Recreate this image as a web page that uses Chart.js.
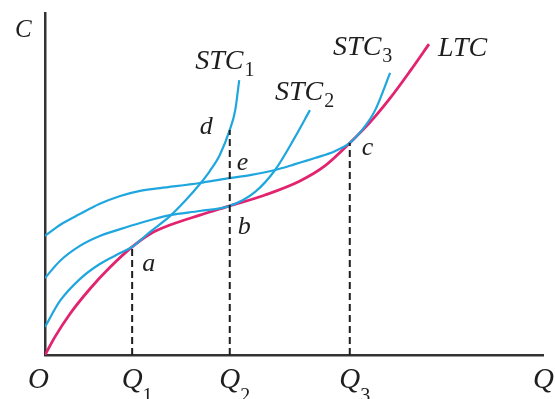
<!DOCTYPE html>
<html>
<head>
<meta charset="utf-8">
<script src="https://cdn.jsdelivr.net/npm/chart.js@4"></script>
<style>
  html, body { margin: 0; padding: 0; background: #ffffff; }
  #wrap { width: 555px; height: 399px; }
</style>
</head>
<body>
<div id="wrap"><canvas id="cost" width="555" height="399"></canvas></div>
<script>
// Output quantity Q (x) and cost C (y), arbitrary units 0..10

// Long-run total cost
const ltcQ = [0, 0.20, 0.50, 0.90, 1.31, 1.75, 2.11, 2.51, 3.11, 3.71, 4.42, 5.12, 5.62, 6.12, 6.53, 6.93, 7.33, 7.71];
const ltcC = [0, 0.53, 1.20, 1.93, 2.57, 3.16, 3.54, 3.80, 4.09, 4.36, 4.68, 5.09, 5.53, 6.20, 6.81, 7.51, 8.30, 9.09];

// Short-run total cost curves for three plant sizes
const stc1Q = [0, 0.30, 0.70, 1.10, 1.51, 1.75, 2.11, 2.51, 2.81, 3.11, 3.31, 3.51, 3.71, 3.82, 3.90];
const stc1C = [0.82, 1.58, 2.22, 2.66, 2.98, 3.16, 3.60, 4.06, 4.50, 5.00, 5.38, 5.85, 6.58, 7.16, 8.04];

const stc2Q = [0, 0.30, 0.70, 1.10, 1.51, 1.91, 2.51, 3.11, 3.71, 4.22, 4.62, 5.02, 5.32];
const stc2C = [2.25, 2.75, 3.19, 3.48, 3.68, 3.86, 4.09, 4.21, 4.36, 4.77, 5.41, 6.37, 7.16];

const stc3Q = [0, 0.30, 0.70, 1.10, 1.51, 1.91, 2.31, 3.11, 3.61, 4.12, 4.62, 5.02, 5.42, 5.82, 6.12, 6.43, 6.63, 6.93];
const stc3C = [3.48, 3.80, 4.12, 4.42, 4.65, 4.80, 4.88, 5.03, 5.15, 5.26, 5.41, 5.58, 5.76, 5.96, 6.20, 6.70, 7.16, 8.25];

// Marked output levels Q1, Q2, Q3
const qTicks = [1.75, 3.71, 6.12];
const qSubs = ['1', '2', '3'];

// Labelled points: a, b, c on LTC; d on STC1 and e on STC3 at Q2
const pointNames = ['a', 'b', 'c', 'd', 'e'];
const pointQ = [1.75, 3.71, 6.12, 3.71, 3.71];
const pointC = [3.16, 4.36, 6.20, 6.58, 5.18];

// Height reached by each dashed guide line (a, d, c)
const guideTop = [3.16, 6.58, 6.20];

const BLUE = '#1fa6de';
const PINK = '#e2236f';
const INK = '#1e1e1e';
const SERIF = '"Liberation Serif", "Times New Roman", serif';

const zip = (xs, ys) => xs.map((x, i) => ({ x: x, y: ys[i] }));

const curve = (label, xs, ys, color, width) => ({
  label: label,
  data: zip(xs, ys),
  showLine: true,
  borderColor: color,
  borderWidth: width,
  pointRadius: 0,
  cubicInterpolationMode: 'monotone',
  fill: false
});

const guides = qTicks.map((q, i) => ({
  label: 'guide' + i,
  data: [{ x: q, y: 0 }, { x: q, y: guideTop[i] }],
  showLine: true,
  borderColor: INK,
  borderWidth: 2,
  borderDash: [7, 4],
  pointRadius: 0
}));

// Text placement relative to the anchor pixel of each label
const curveLabelSpec = [
  { main: 'STC', sub: '1', q: stc1Q, c: stc1C, dx: -44, dy: -11 },
  { main: 'STC', sub: '2', q: stc2Q, c: stc2C, dx: -35, dy: -10 },
  { main: 'STC', sub: '3', q: stc3Q, c: stc3C, dx: -57, dy: -18 },
  { main: 'LTC', sub: '',  q: ltcQ,  c: ltcC,  dx: 9,   dy: 12 }
];
const pointLabelOffset = {
  a: [10, 24], b: [8, 28], c: [12, 12], d: [-30, 4], e: [7, -8]
};

function drawSub(ctx, main, sub, x, y, mainPx, subPx, subDy, gap, centered) {
  ctx.font = 'italic ' + mainPx + 'px ' + SERIF;
  const w = ctx.measureText(main).width;
  const left = centered ? x - w / 2 : x;
  ctx.fillText(main, left, y);
  if (sub) {
    ctx.font = subPx + 'px ' + SERIF;
    ctx.fillText(sub, left + w + gap, y + subDy);
  }
}

const labelPlugin = {
  id: 'costLabels',
  afterDraw(chart) {
    const ctx = chart.ctx;
    const xs = chart.scales.x, ys = chart.scales.y;
    ctx.save();
    ctx.fillStyle = INK;
    ctx.textBaseline = 'alphabetic';
    ctx.textAlign = 'left';

    // Curve names near the upper ends of the curves
    curveLabelSpec.forEach(s => {
      const n = s.q.length - 1;
      const px = xs.getPixelForValue(s.q[n]);
      const py = ys.getPixelForValue(s.c[n]);
      drawSub(ctx, s.main, s.sub, px + s.dx, py + s.dy, 28, 20, 7, 1, false);
    });

    // Point letters
    ctx.font = 'italic 26px ' + SERIF;
    pointNames.forEach((nm, i) => {
      const off = pointLabelOffset[nm];
      ctx.fillText(nm, xs.getPixelForValue(pointQ[i]) + off[0], ys.getPixelForValue(pointC[i]) + off[1]);
    });

    // Axis names and origin
    ctx.font = 'italic 25px ' + SERIF;
    ctx.fillText('C', xs.left - 30, ys.top + 24);
    ctx.font = 'italic 29px ' + SERIF;
    ctx.fillText('O', xs.left - 17, ys.bottom + 33);
    ctx.fillText('Q', xs.right - 10, ys.bottom + 33);

    // Q1, Q2, Q3 under the axis
    qTicks.forEach((q, i) => {
      drawSub(ctx, 'Q', qSubs[i], xs.getPixelForValue(q), ys.bottom + 33, 29, 20, 14, 0, true);
    });
    ctx.restore();
  }
};

new Chart(document.getElementById('cost'), {
  type: 'scatter',
  data: {
    datasets: [
      ...guides,
      curve('STC1', stc1Q, stc1C, BLUE, 2.2),
      curve('STC2', stc2Q, stc2C, BLUE, 2.2),
      curve('STC3', stc3Q, stc3C, BLUE, 2.2),
      curve('LTC', ltcQ, ltcC, PINK, 2.8)
    ]
  },
  options: {
    responsive: false,
    animation: false,
    layout: { padding: { left: 45, top: 13, right: 12, bottom: 44 } },
    plugins: { legend: { display: false }, tooltip: { enabled: false } },
    scales: {
      x: {
        type: 'linear', min: 0, max: 10,
        grid: { display: false },
        ticks: { display: false },
        border: { display: true, color: '#333333', width: 2.5 },
        afterFit: (scale) => { scale.height = 0; }
      },
      y: {
        type: 'linear', min: 0, max: 10,
        grid: { display: false },
        ticks: { display: false },
        border: { display: true, color: '#333333', width: 2.5 },
        afterFit: (scale) => { scale.width = 0; }
      }
    }
  },
  plugins: [labelPlugin]
});
</script>
</body>
</html>
